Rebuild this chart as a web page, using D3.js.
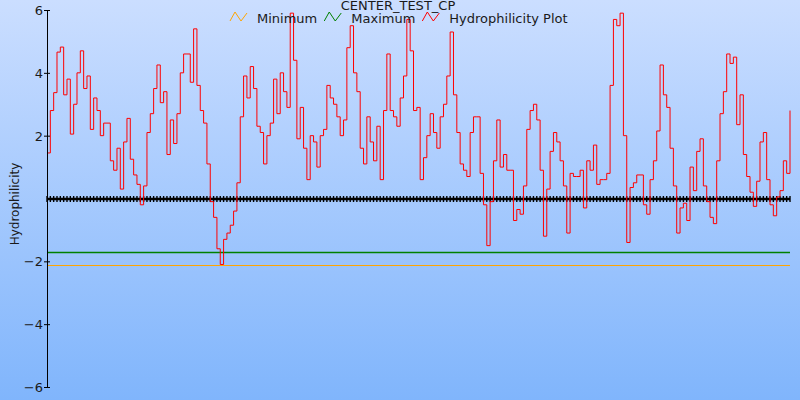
<!DOCTYPE html>
<html>
<head>
<meta charset="utf-8">
<script src="https://cdn.jsdelivr.net/npm/d3@7"></script>
<style>
  html, body { margin: 0; padding: 0; background: #fff; }
  svg { display: block; }
  text { font-family: "DejaVu Sans", sans-serif; fill: #1a1a1a; }
</style>
</head>
<body>
<svg id="chart" width="800" height="400"></svg>
<script>
// ---- data ----
const chartTitle = "CENTER_TEST_CP";
const yAxisTitle = "Hydrophilicity";
const yTickValues = [-6, -4, -2, 2, 4, 6];
const legendLabels = ["Minimum", "Maximum", "Hydrophilicity Plot"];
const minimumLevel = -2.12;
const maximumLevel = -1.70;
const baselineLevel = 0;
const hydrophilicity = [
  1.45, 2.8, 3.37, 4.66, 4.82, 3.3, 3.8, 2.05, 3.0, 4.0, 4.7, 3.5, 3.9, 2.2, 3.2,
  2.8, 2.0, 2.4, 2.4, 1.2, 0.9, 1.6, 0.3, 1.8, 2.55, 1.25, 0.75, 0.45, -0.2, 0.4,
  2.1, 2.7, 3.5, 4.25, 3.05, 3.4, 1.4, 2.5, 1.75, 2.7, 4.0, 4.6, 4.6, 3.7, 5.4,
  3.6, 2.8, 2.4, 1.1, -0.1, -0.6, -1.6, -2.1, -1.3, -1.1, -0.85, -0.4, 0.5, 2.6, 3.9,
  3.2, 4.2, 3.5, 2.3, 2.1, 1.1, 2.0, 2.4, 3.8, 2.7, 4.0, 3.4, 2.9, 5.9, 4.4,
  1.9, 2.9, 1.6, 0.6, 2.0, 1.8, 1.0, 2.0, 2.2, 3.6, 3.2, 3.0, 2.6, 2.0, 2.5,
  4.8, 5.5, 4.0, 3.4, 1.6, 1.1, 2.6, 1.8, 1.2, 2.3, 0.6, 2.8, 4.6, 2.8, 2.6,
  2.3, 3.2, 3.9, 5.7, 4.7, 2.8, 2.9, 0.6, 1.3, 2.0, 2.7, 2.1, 1.6, 2.6, 3.0,
  3.9, 5.3, 3.3, 2.1, 1.1, 0.9, 0.7, 2.1, 2.6, 2.6, 0.8, -0.2, -1.5, -0.1, 1.2,
  2.5, 1.0, 1.4, 0.9, 0.9, -0.7, -0.35, -0.5, 0.4, 2.2, 2.8, 3.0, 2.5, 0.9, -1.2,
  0.3, 1.5, 2.1, 1.8, 1.2, 0.4, -1.1, 0.8, 0.7, 0.7, 0.9, -0.3, 1.2, 0.9, 1.7,
  0.45, 0.6, 0.6, 0.8, 3.6, 5.7, 5.5, 5.9, 2.0, -1.4, 0.35, 0.5, 0.75, 0.75, -0.2,
  -0.5, 0.6, 1.2, 2.15, 4.25, 3.3, 2.9, 1.6, 0.4, -1.1, -0.3, -0.15, -0.7, 1.0, 0.25,
  1.5, 1.9, 0.4, -0.1, -0.6, -0.8, 1.2, 2.7, 3.4, 4.6, 4.3, 4.5, 2.35, 3.3, 1.4,
  0.7, 0.2, -0.25, 0.55, 1.8, 2.1, 0.6, -0.2, -0.55, 0.05, 0.25, 1.2, 0.8, 2.8
];

// ---- layout ----
const W = 800, H = 400;
const plot = { left: 47, right: 790, top: 10, bottom: 387 };
const colors = { min: "#ffa500", max: "#008000", line: "#ff0000" };

const svg = d3.select("#chart");

// background gradient
const defs = svg.append("defs");
const grad = defs.append("linearGradient").attr("id", "bg")
  .attr("x1", 0).attr("y1", 0).attr("x2", 0).attr("y2", 1);
grad.append("stop").attr("offset", "0%").attr("stop-color", "rgb(203,222,255)");
grad.append("stop").attr("offset", "100%").attr("stop-color", "rgb(128,181,252)");
svg.append("rect").attr("width", W).attr("height", H).attr("fill", "url(#bg)");

const x = d3.scaleLinear().domain([0, hydrophilicity.length - 1]).range([plot.left, plot.right]);
const y = d3.scaleLinear().domain([-6, 6]).range([plot.bottom, plot.top]);

// Minimum / Maximum reference lines
svg.append("line")
  .attr("x1", x(0)).attr("x2", x(hydrophilicity.length - 1))
  .attr("y1", Math.round(y(minimumLevel)) + 0.5).attr("y2", Math.round(y(minimumLevel)) + 0.5)
  .attr("stroke", colors.min).attr("stroke-width", 1);
svg.append("line")
  .attr("x1", x(0)).attr("x2", x(hydrophilicity.length - 1))
  .attr("y1", Math.round(y(maximumLevel)) + 0.5).attr("y2", Math.round(y(maximumLevel)) + 0.5)
  .attr("stroke", colors.max).attr("stroke-width", 1.3);

// baseline band with markers at each residue
const y0 = y(baselineLevel);
svg.append("line")
  .attr("x1", x(0)).attr("x2", x(hydrophilicity.length - 1))
  .attr("y1", y0 + 0.5).attr("y2", y0 + 0.5)
  .attr("stroke", "#000").attr("stroke-width", 2.5);
svg.append("g").selectAll("line").data(hydrophilicity).join("line")
  .attr("x1", (d, i) => x(i)).attr("x2", (d, i) => x(i))
  .attr("y1", y0 - 2.5).attr("y2", y0 + 3.5)
  .attr("stroke", "#000").attr("stroke-width", 1.4);

// hydrophilicity step line
const line = d3.line()
  .x((d, i) => x(i))
  .y(d => y(d))
  .curve(d3.curveStepAfter);
svg.append("path")
  .datum(hydrophilicity)
  .attr("d", line)
  .attr("fill", "none")
  .attr("stroke", colors.line)
  .attr("stroke-width", 1);

// y axis
const yAxis = d3.axisLeft(y).tickValues(yTickValues).tickSize(3).tickFormat(d3.format("d"));
const gy = svg.append("g").attr("transform", `translate(${plot.left},0)`).call(yAxis);
gy.select(".domain").attr("stroke", "#000").attr("d", `M0.5,${plot.top}V${plot.bottom}`);
gy.selectAll(".tick line").attr("x1", -3).attr("x2", 3).attr("stroke", "#000");
gy.selectAll(".tick text")
  .attr("x", -4).attr("dy", "0.35em")
  .style("font-family", "'DejaVu Sans', sans-serif")
  .style("font-size", "13px").attr("fill", "#1a1a1a");

// y axis title
svg.append("text")
  .attr("transform", "translate(19,204) rotate(-90)")
  .attr("text-anchor", "middle")
  .style("font-size", "12px")
  .text(yAxisTitle);

// title
svg.append("text")
  .attr("x", 398).attr("y", 10)
  .attr("text-anchor", "middle")
  .style("font-size", "13px")
  .text(chartTitle);

// legend
const legendColors = [colors.min, colors.max, colors.line];
let lx = 230;
legendLabels.forEach((label, i) => {
  const g = svg.append("g");
  g.append("polyline")
    .attr("points", [[lx, 21], [lx + 5, 12], [lx + 11, 21], [lx + 17, 13]].map(p => p.join(",")).join(" "))
    .attr("fill", "none").attr("stroke", legendColors[i]).attr("stroke-width", 1);
  const t = g.append("text").attr("x", lx + 27).attr("y", 22.5)
    .style("font-size", "13px").text(label);
  lx = lx + 27 + t.node().getComputedTextLength() + 7;
});
</script>
</body>
</html>
